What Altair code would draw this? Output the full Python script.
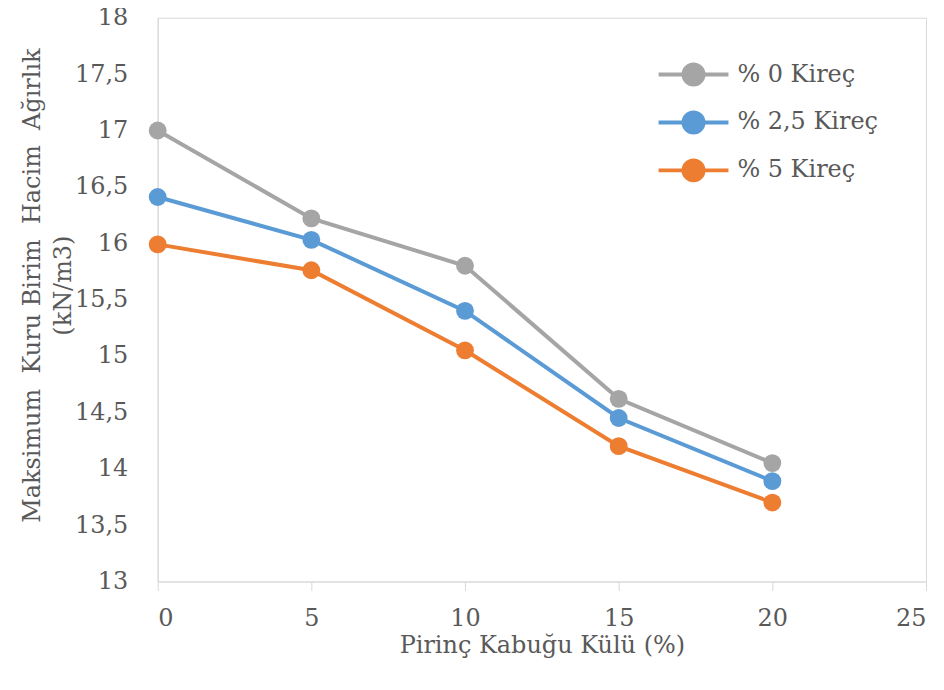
import altair as alt
import pandas as pd

x_vals = [0, 5, 10, 15, 20]
series_names = ["% 0 Kireç", "% 2,5 Kireç", "% 5 Kireç"]
gray_vals = [17.00, 16.22, 15.80, 14.62, 14.05]
blue_vals = [16.41, 16.03, 15.40, 14.45, 13.89]
orange_vals = [15.99, 15.76, 15.05, 14.20, 13.70]
colors = ["#A5A5A5", "#5B9BD5", "#ED7D31"]
x_ticks = [0, 5, 10, 15, 20, 25]
y_ticks = [13, 13.5, 14, 14.5, 15, 15.5, 16, 16.5, 17, 17.5, 18]

rows = []
for name, vals in zip(series_names, [gray_vals, blue_vals, orange_vals]):
    for xv, yv in zip(x_vals, vals):
        rows.append({"x": xv, "y": yv, "series": name})
df = pd.DataFrame(rows)

FONT = "DejaVu Serif"
FS = 24
TXT = "#595959"

legend_path = ("M-1.75,0 H-0.5 M0.5,0 H1.75 "
               "M-0.5,0 A0.5,0.5 0 1,1 0.5,0 A0.5,0.5 0 1,1 -0.5,0 Z")

color_enc = alt.Color(
    "series:N",
    scale=alt.Scale(domain=series_names, range=colors),
    sort=series_names,
    legend=alt.Legend(
        title=None,
        orient="none",
        legendX=515,
        legendY=35,
        padding=0,
        symbolType=legend_path,
        symbolSize=1600,
        symbolStrokeWidth=4,
        labelOffset=22,
        labelFont=FONT,
        labelFontSize=FS,
        labelColor=TXT,
        rowPadding=8,
        labelLimit=300,
    ),
)

x_enc = alt.X(
    "x:Q",
    scale=alt.Scale(domain=[0, 25], nice=False),
    axis=alt.Axis(
        values=x_ticks,
        title="Pirinç Kabuğu Külü (%)",
        grid=False,
        domainColor="#D9D9D9",
        tickColor="#D9D9D9",
        tickSize=9,
        labelPadding=16,
        labelFont=FONT,
        labelFontSize=FS,
        labelColor=TXT,
        titleFont=FONT,
        titleFontSize=FS,
        titleFontWeight="normal",
        titleColor=TXT,
        titleBaseline="alphabetic",
        titleY=71,
    ),
)

y_enc = alt.Y(
    "y:Q",
    scale=alt.Scale(domain=[13, 18], nice=False, zero=False),
    axis=alt.Axis(
        values=y_ticks,
        labelExpr="replace(toString(datum.value), '.', ',')",
        title=["Maksimum\u00a0 Kuru Birim\u00a0 Hacim\u00a0 Ağırlık", "(kN/m3)"],
        grid=False,
        ticks=False,
        domainColor="#D9D9D9",
        labelPadding=30,
        labelFont=FONT,
        labelFontSize=FS,
        labelColor=TXT,
        titleFont=FONT,
        titleFontSize=FS,
        titleFontWeight="normal",
        titleColor=TXT,
        titleAngle=-90,
        titleAlign="center",
        titleBaseline="alphabetic",
        titleX=-118,
        titleY=268,
        titleLineHeight=31,
    ),
)

base = alt.Chart(df).encode(x=x_enc, y=y_enc, color=color_enc,
                            order=alt.Order("x:Q"))
lines = base.mark_line(strokeWidth=4)
points = base.mark_point(filled=True, size=320, opacity=1)

chart = alt.layer(lines, points).properties(
    width=770,
    height=565,
    autosize=alt.AutoSizeParams(type="none"),
    padding={"left": 150, "top": 9, "right": 10, "bottom": 100},
).configure(
    background="white", font=FONT
).configure_axis(
    labelFont=FONT, titleFont=FONT
).configure_legend(
    labelFont=FONT
).configure_view(stroke="#D9D9D9", strokeWidth=1)

chart.save("out.html", embed_options={"renderer": "svg", "actions": False})
